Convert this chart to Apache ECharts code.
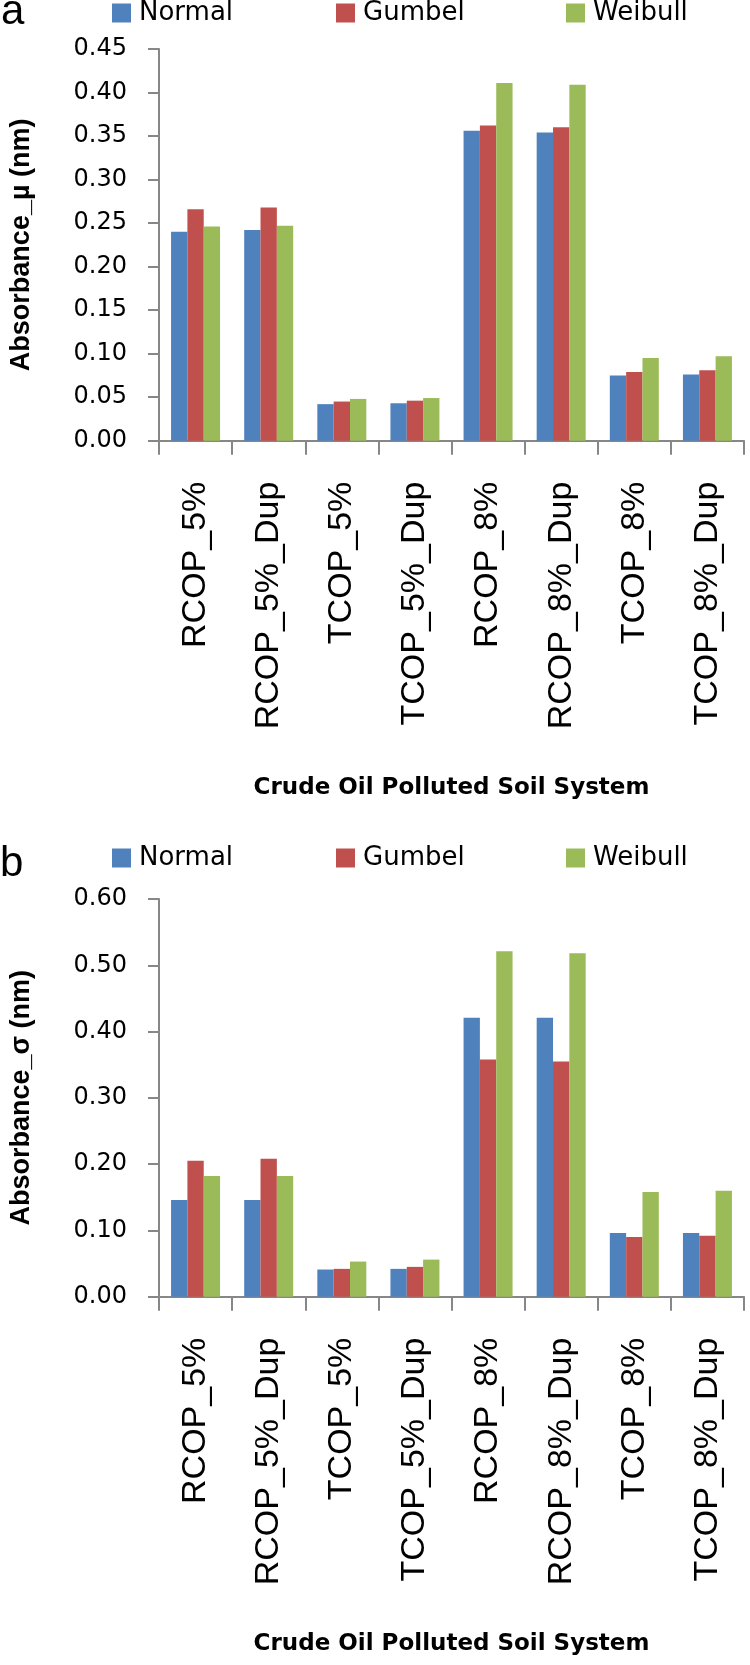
<!DOCTYPE html>
<html>
<head>
<meta charset="utf-8">
<script src="https://cdn.jsdelivr.net/npm/echarts@6/dist/echarts.min.js"></script>
<style>
html,body{margin:0;padding:0;background:#fff;}
#chart{width:750px;height:1665px;}
</style>
</head>
<body>
<div id="chart"></div>
<script>
// ---- data ----
const categories = ['RCOP_5%','RCOP_5%_Dup','TCOP_5%','TCOP_5%_Dup','RCOP_8%','RCOP_8%_Dup','TCOP_8%','TCOP_8%_Dup'];
const seriesNames = ['Normal','Gumbel','Weibull'];
const seriesColors = ['#4F81BD','#C0504D','#9BBB59'];

// panel a: Absorbance_µ
const muNormal  = [0.240, 0.242, 0.042, 0.043, 0.356, 0.354, 0.075, 0.076];
const muGumbel  = [0.266, 0.268, 0.045, 0.046, 0.362, 0.360, 0.079, 0.081];
const muWeibull = [0.246, 0.247, 0.048, 0.049, 0.411, 0.409, 0.095, 0.097];

// panel b: Absorbance_σ
const sigmaNormal  = [0.146, 0.146, 0.041, 0.042, 0.421, 0.421, 0.096, 0.096];
const sigmaGumbel  = [0.205, 0.208, 0.042, 0.045, 0.358, 0.355, 0.090, 0.092];
const sigmaWeibull = [0.182, 0.182, 0.053, 0.056, 0.521, 0.518, 0.158, 0.160];

const muAxis = {min: 0, max: 0.45, interval: 0.05};
const sigmaAxis = {min: 0, max: 0.60, interval: 0.10};

const panelLabels = ['a', 'b'];
const yNames = ['Absorbance_µ (nm)', 'Absorbance_σ (nm)'];
const xName = 'Crude Oil Polluted Soil System';

// ---- chart ----
const chart = echarts.init(document.getElementById('chart'), null, {renderer: 'canvas'});
const axisGray = '#878787';

function xAxisFor(gridIndex) {
  return {
    type: 'category', gridIndex, data: categories,
    name: xName, nameLocation: 'middle', nameGap: 336,
    nameTextStyle: {fontFamily: 'DejaVu Sans', fontWeight: 'bold', fontSize: 23, color: '#000'},
    axisLine: {show: true, lineStyle: {color: axisGray, width: 2}},
    axisTick: {show: true, length: 14, alignWithLabel: false, lineStyle: {color: axisGray, width: 2}},
    axisLabel: {interval: 0, rotate: 90, margin: 41, fontFamily: 'Liberation Sans', fontSize: 34, color: '#000'},
    splitLine: {show: false}
  };
}
function yAxisFor(gridIndex, ax, name) {
  return {
    type: 'value', gridIndex, min: ax.min, max: ax.max, interval: ax.interval,
    name: name, nameLocation: 'middle', nameGap: 124,
    nameTextStyle: {fontFamily: 'Liberation Sans', fontWeight: 'bold', fontSize: 27, color: '#000'},
    axisLine: {show: true, lineStyle: {color: axisGray, width: 2}},
    axisTick: {show: true, length: 11, lineStyle: {color: axisGray, width: 2}},
    axisLabel: {margin: 32, fontFamily: 'DejaVu Sans', fontSize: 24, color: '#000',
      formatter: v => v.toFixed(2)},
    splitLine: {show: false}
  };
}
const legendLefts = [112, 336, 566];
const legendTops = [0, 845];
const legends = [];
legendTops.forEach(t => {
  seriesNames.forEach((n, i) => {
    legends.push({
      data: [n], left: legendLefts[i], top: t, padding: 0, itemGap: 0,
      icon: 'rect', itemWidth: 19, itemHeight: 19, selectedMode: false,
      textStyle: {fontFamily: 'DejaVu Sans', fontSize: 26, lineHeight: 26, color: '#000', padding: [0,0,0,3]}
    });
  });
});

const muData = [muNormal, muGumbel, muWeibull];
const sigmaData = [sigmaNormal, sigmaGumbel, sigmaWeibull];
const series = [];
[muData, sigmaData].forEach((set, g) => {
  set.forEach((vals, i) => {
    series.push({
      type: 'bar', name: seriesNames[i], xAxisIndex: g, yAxisIndex: g,
      data: vals, barGap: '0%', barCategoryGap: '33%',
      itemStyle: {color: seriesColors[i]}, animation: false
    });
  });
});

chart.setOption({
  animation: false,
  backgroundColor: '#fff',
  color: seriesColors,
  grid: [
    {left: 159, width: 585, top: 49, height: 391.7, containLabel: false},
    {left: 159, width: 585, top: 899, height: 397.7, containLabel: false}
  ],
  legend: legends,
  xAxis: [xAxisFor(0), xAxisFor(1)],
  yAxis: [yAxisFor(0, muAxis, yNames[0]), yAxisFor(1, sigmaAxis, yNames[1])],
  series: series,
  graphic: [
    {type: 'text', left: 1, top: -9, style: {text: panelLabels[0], font: '42px "Liberation Sans"', fill: '#000'}},
    {type: 'text', left: 0, top: 843, style: {text: panelLabels[1], font: '42px "Liberation Sans"', fill: '#000'}}
  ]
});
</script>
</body>
</html>
